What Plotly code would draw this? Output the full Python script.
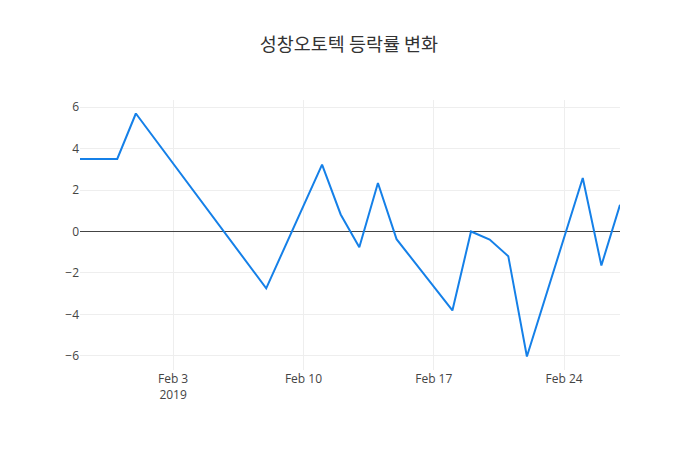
import plotly.graph_objects as go

dates = [
    "2019-01-29", "2019-01-31", "2019-02-01", "2019-02-08",
    "2019-02-11", "2019-02-12", "2019-02-13", "2019-02-14", "2019-02-15",
    "2019-02-18", "2019-02-19", "2019-02-20", "2019-02-21", "2019-02-22",
    "2019-02-25", "2019-02-26", "2019-02-27",
]
change_pct = [
    3.5, 3.5, 5.69, -2.74,
    3.22, 0.82, -0.76, 2.34, -0.37,
    -3.81, 0.0, -0.39, -1.19, -6.03,
    2.58, -1.64, 1.29,
]
title = "성창오토텍 등락률 변화"

fig = go.Figure()
fig.add_trace(go.Scatter(
    x=dates,
    y=change_pct,
    mode="lines",
    line=dict(color="#1580e8", width=2),
))

# page body has an 8px margin, so shift the plot area up/left to compensate
fig.update_layout(
    template="none",
    width=700,
    height=450,
    title=dict(text=title, x=0.487, xanchor="center", y=0.918, yanchor="middle",
               font=dict(size=18.5, color="#333",
                         family="Noto Sans CJK KR, Open Sans, sans-serif")),
    font=dict(family="Open Sans, sans-serif", color="#444"),
    margin=dict(l=72, r=88, t=92, b=88),
    xaxis=dict(gridcolor="#eee", zeroline=False),
    yaxis=dict(gridcolor="#eee", zerolinecolor="#444", zerolinewidth=1),
    showlegend=False,
    plot_bgcolor="white",
    paper_bgcolor="white",
)

fig.write_html("out.html")
